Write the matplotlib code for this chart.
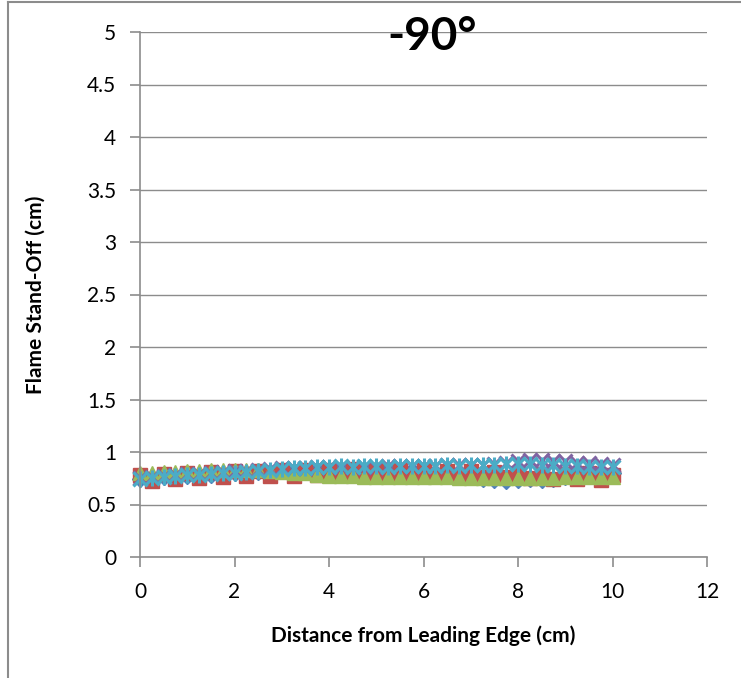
import matplotlib.pyplot as plt
from matplotlib.lines import Line2D

plt.rcParams['font.family'] = ['Lato', 'DejaVu Sans']

# distance from leading edge (cm)
dist = [0.0, 0.25, 0.5, 0.75, 1.0, 1.25, 1.5, 1.75, 2.0, 2.25, 2.5, 2.75, 3.0, 3.25,
        3.5, 3.75, 4.0, 4.25, 4.5, 4.75, 5.0, 5.25, 5.5, 5.75, 6.0, 6.25, 6.5, 6.75,
        7.0, 7.25, 7.5, 7.75, 8.0, 8.25, 8.5, 8.75, 9.0, 9.25, 9.5, 9.75, 10.0]

s_blue = [0.74, 0.75, 0.76, 0.76, 0.77, 0.78, 0.78, 0.79, 0.80, 0.80, 0.81, 0.81, 0.82, 0.82,
          0.83, 0.83, 0.83, 0.84, 0.84, 0.84, 0.84, 0.84, 0.83, 0.83, 0.82, 0.81, 0.80, 0.78,
          0.76, 0.74, 0.73, 0.72, 0.73, 0.74, 0.73, 0.74, 0.76, 0.78, 0.79, 0.80, 0.80]
s_red = [0.78, 0.72, 0.79, 0.74, 0.80, 0.75, 0.81, 0.76, 0.82, 0.77, 0.82, 0.77, 0.83, 0.77,
         0.83, 0.78, 0.83, 0.78, 0.84, 0.78, 0.83, 0.78, 0.83, 0.77, 0.83, 0.77, 0.82, 0.77,
         0.82, 0.76, 0.81, 0.76, 0.80, 0.75, 0.79, 0.74, 0.79, 0.74, 0.80, 0.73, 0.78]
s_green = [0.80, 0.80, 0.81, 0.81, 0.82, 0.82, 0.83, 0.83, 0.83, 0.83, 0.83, 0.82, 0.81, 0.80,
           0.80, 0.78, 0.77, 0.77, 0.77, 0.76, 0.76, 0.76, 0.76, 0.76, 0.76, 0.76, 0.76, 0.75,
           0.75, 0.75, 0.75, 0.75, 0.75, 0.75, 0.75, 0.75, 0.76, 0.76, 0.76, 0.76, 0.76]
s_purple = [0.75, 0.76, 0.77, 0.78, 0.79, 0.79, 0.80, 0.81, 0.82, 0.82, 0.83, 0.84, 0.85, 0.85,
            0.85, 0.86, 0.86, 0.86, 0.86, 0.86, 0.86, 0.87, 0.87, 0.87, 0.87, 0.87, 0.88, 0.88,
            0.88, 0.88, 0.89, 0.90, 0.91, 0.92, 0.92, 0.91, 0.91, 0.90, 0.90, 0.89, 0.88]
s_cyan = [0.74, 0.75, 0.76, 0.77, 0.78, 0.78, 0.79, 0.80, 0.80, 0.81, 0.82, 0.83, 0.84, 0.85,
          0.85, 0.86, 0.86, 0.87, 0.86, 0.87, 0.87, 0.86, 0.87, 0.87, 0.87, 0.87, 0.88, 0.87,
          0.88, 0.88, 0.88, 0.89, 0.89, 0.89, 0.88, 0.88, 0.87, 0.87, 0.86, 0.86, 0.86]

fig = plt.figure(figsize=(7.41, 6.78), dpi=100)
ax = fig.add_axes([140/741, 1-557/678, 567/741, 525/678])

ax.plot(dist, s_blue, ls='none', marker='D', ms=8, color='#4F81BD', mec='#4F81BD', clip_on=False)
ax.plot(dist, s_red, ls='none', marker='s', ms=10, color='#C0504D', mec='#C0504D', clip_on=False)
ax.plot(dist, s_green, ls='none', marker='^', ms=10, color='#9BBB59', mec='#9BBB59', clip_on=False)
ax.plot(dist, s_purple, ls='none', marker='x', ms=10, mew=2.2, color='#8064A2', clip_on=False)
ax.plot(dist, s_cyan, ls='none', marker='x', ms=10, mew=2.2, color='#4BACC6', clip_on=False)
ax.plot(dist, s_cyan, ls='none', marker='|', ms=11, mew=2.2, color='#4BACC6', clip_on=False)

ax.set_xlim(0, 12)
ax.set_ylim(0, 5)
ax.set_xticks([0, 2, 4, 6, 8, 10, 12])
ax.set_yticks([0, 0.5, 1, 1.5, 2, 2.5, 3, 3.5, 4, 4.5, 5])
ax.set_yticklabels(['0', '0.5', '1', '1.5', '2', '2.5', '3', '3.5', '4', '4.5', '5'])
ax.yaxis.grid(True, color='#8C8C8C', lw=1)
ax.set_axisbelow(True)
for s in ['top', 'right']:
    ax.spines[s].set_visible(False)
for s in ['left', 'bottom']:
    ax.spines[s].set_color('#8C8C8C')
    ax.spines[s].set_linewidth(1.2)
ax.tick_params(axis='both', colors='#8C8C8C', labelcolor='black', labelsize=15,
               length=7, width=1.2)
ax.tick_params(axis='y', pad=10)
ax.tick_params(axis='x', pad=11)

ax.set_xlabel('Distance from Leading Edge (cm)', fontsize=15, fontweight='bold', labelpad=17)
ax.set_ylabel('Flame Stand-Off (cm)', fontsize=15, fontweight='bold', labelpad=30)
fig.text(432/741, 1-37/678, '-90°', fontsize=33, fontweight='bold', ha='center', va='center')

# chart border
fig.add_artist(Line2D([8/741, 8/741], [0, 1-2/678], color='#8C8C8C', lw=1.5))
fig.add_artist(Line2D([8/741, 1], [1-2/678, 1-2/678], color='#8C8C8C', lw=1.5))

fig.savefig('out.png', dpi=100)
